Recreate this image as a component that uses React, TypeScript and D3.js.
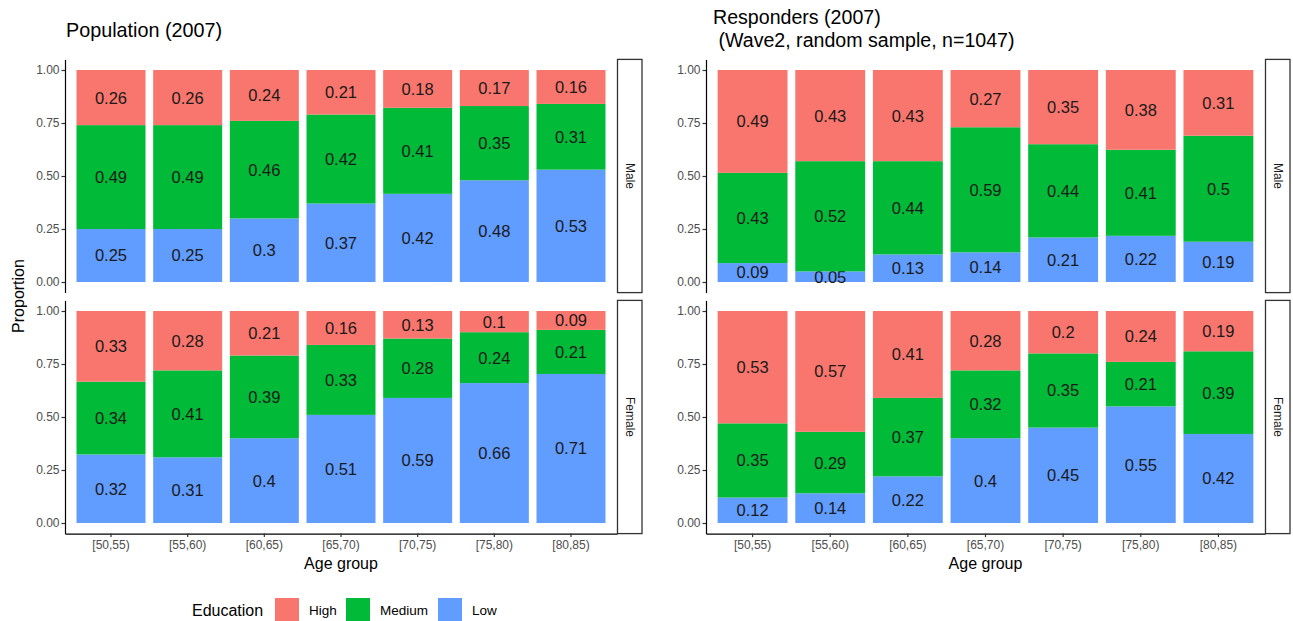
import React from "react";
import { useRef, useEffect } from "react";
import * as d3 from "d3";

const ageGroups = ["[50,55)", "[55,60)", "[60,65)", "[65,70)", "[70,75)", "[75,80)", "[80,85)"];
const eduLevels = ["High", "Medium", "Low"];
const eduColors = ["#F8766D", "#00BA38", "#619CFF"];
const sexes = ["Male", "Female"];
const yTicks = [0, 0.25, 0.5, 0.75, 1];

// rows are age groups, columns High / Medium / Low
const popMale = [
  [0.26, 0.49, 0.25],
  [0.26, 0.49, 0.25],
  [0.24, 0.46, 0.3],
  [0.21, 0.42, 0.37],
  [0.18, 0.41, 0.42],
  [0.17, 0.35, 0.48],
  [0.16, 0.31, 0.53],
];
const popFemale = [
  [0.33, 0.34, 0.32],
  [0.28, 0.41, 0.31],
  [0.21, 0.39, 0.4],
  [0.16, 0.33, 0.51],
  [0.13, 0.28, 0.59],
  [0.1, 0.24, 0.66],
  [0.09, 0.21, 0.71],
];
const respMale = [
  [0.49, 0.43, 0.09],
  [0.43, 0.52, 0.05],
  [0.43, 0.44, 0.13],
  [0.27, 0.59, 0.14],
  [0.35, 0.44, 0.21],
  [0.38, 0.41, 0.22],
  [0.31, 0.5, 0.19],
];
const respFemale = [
  [0.53, 0.35, 0.12],
  [0.57, 0.29, 0.14],
  [0.41, 0.37, 0.22],
  [0.28, 0.32, 0.4],
  [0.2, 0.35, 0.45],
  [0.24, 0.21, 0.55],
  [0.19, 0.39, 0.42],
];

const FONT = "'Liberation Sans', Arial, sans-serif";

function App() {
  const svgRef = useRef(null);

  function drawFacetPlot(svg, x0, x1, panels) {
    var rows = [
      { top: 59.4, bottom: 292.6 },
      { top: 300.4, bottom: 533.6 },
    ];
    var x = d3
      .scaleBand()
      .domain(ageGroups)
      .range([x0, x1])
      .paddingInner(0.1)
      .paddingOuter(0.15);

    panels.forEach(function (values, r) {
      var row = rows[r];
      var y = d3.scaleLinear().domain([-0.05, 1.05]).range([row.bottom, row.top]);

      var table = values.map(function (v, i) {
        var o = { group: ageGroups[i] };
        eduLevels.forEach(function (k, j) {
          o[k] = v[j];
        });
        return o;
      });
      var series = d3
        .stack()
        .keys(["Low", "Medium", "High"])
        .offset(d3.stackOffsetExpand)(table);

      var g = svg.append("g");
      series.forEach(function (s) {
        var color = eduColors[eduLevels.indexOf(s.key)];
        g.selectAll(null)
          .data(s)
          .join("rect")
          .attr("x", (d) => x(d.data.group))
          .attr("width", x.bandwidth())
          .attr("y", (d) => y(d[1]))
          .attr("height", (d) => y(d[0]) - y(d[1]))
          .attr("fill", color);
        g.selectAll(null)
          .data(s)
          .join("text")
          .attr("x", (d) => x(d.data.group) + x.bandwidth() / 2)
          .attr("y", (d) => y((d[0] + d[1]) / 2))
          .attr("dy", "0.36em")
          .attr("text-anchor", "middle")
          .attr("font-family", FONT)
          .attr("font-size", 16.5)
          .attr("fill", "#1a1a1a")
          .text((d) => String(d.data[s.key]));
      });

      // y axis
      var ya = svg
        .append("g")
        .attr("transform", "translate(" + x0 + ",0)")
        .call(
          d3
            .axisLeft(y)
            .tickValues(yTicks)
            .tickFormat(d3.format(".2f"))
            .tickSize(3.5)
            .tickSizeOuter(0)
            .tickPadding(2)
        );
      ya.selectAll("path, line").attr("stroke", "#000").attr("stroke-width", 1.2);
      ya.selectAll("line").attr("stroke", "#333");
      ya.selectAll("text")
        .attr("fill", "#4d4d4d")
        .attr("font-family", FONT)
        .attr("font-size", 12);

      // strip on the right
      svg
        .append("rect")
        .attr("x", x1 + 0.5)
        .attr("y", row.top)
        .attr("width", 24.5)
        .attr("height", row.bottom - row.top)
        .attr("fill", "#fff")
        .attr("stroke", "#333")
        .attr("stroke-width", 1.3);
      svg
        .append("text")
        .attr("transform", "translate(" + (x1 + 13) + "," + (row.top + row.bottom) / 2 + ") rotate(90)")
        .attr("text-anchor", "middle")
        .attr("dy", "0.35em")
        .attr("font-family", FONT)
        .attr("font-size", 12)
        .attr("fill", "#1a1a1a")
        .text(sexes[r]);
    });

    // x axis, bottom panel only
    var xa = svg
      .append("g")
      .attr("transform", "translate(0," + rows[1].bottom + ")")
      .call(d3.axisBottom(x).tickSize(3.5).tickSizeOuter(0).tickPadding(3));
    xa.selectAll("path, line").attr("stroke", "#000").attr("stroke-width", 1.2);
    xa.selectAll("line").attr("stroke", "#333");
    xa.selectAll("text")
      .attr("fill", "#4d4d4d")
      .attr("font-family", FONT)
      .attr("font-size", 12);

    svg
      .append("text")
      .attr("x", (x0 + x1) / 2)
      .attr("y", 569)
      .attr("text-anchor", "middle")
      .attr("font-family", FONT)
      .attr("font-size", 16)
      .attr("fill", "#000")
      .text("Age group");
  }

  function renderChart() {
    const svg = d3.select(svgRef.current);
    svg.selectAll("*").remove();

    drawFacetPlot(svg, 65, 617, [popMale, popFemale]);
    drawFacetPlot(svg, 706, 1265, [respMale, respFemale]);

    svg
      .append("text")
      .attr("x", 66)
      .attr("y", 37)
      .attr("font-family", FONT)
      .attr("font-size", 19.8)
      .attr("fill", "#000")
      .text("Population (2007)");

    svg
      .append("text")
      .attr("x", 713)
      .attr("y", 24)
      .attr("font-family", FONT)
      .attr("font-size", 19.6)
      .attr("fill", "#000")
      .text("Responders (2007)");
    svg
      .append("text")
      .attr("x", 713)
      .attr("y", 47)
      .attr("font-family", FONT)
      .attr("font-size", 19.6)
      .attr("fill", "#000")
      .attr("xml:space", "preserve")
      .style("white-space", "pre")
      .text(" (Wave2, random sample, n=1047)");

    svg
      .append("text")
      .attr("transform", "translate(24,296) rotate(-90)")
      .attr("text-anchor", "middle")
      .attr("font-family", FONT)
      .attr("font-size", 16)
      .attr("fill", "#000")
      .text("Proportion");

    // legend
    const legend = svg.append("g");
    legend
      .append("text")
      .attr("x", 192)
      .attr("y", 616)
      .attr("font-family", FONT)
      .attr("font-size", 16)
      .attr("fill", "#000")
      .text("Education");
    var keyX = [275, 346, 438];
    eduLevels.forEach(function (k, i) {
      legend
        .append("rect")
        .attr("x", keyX[i])
        .attr("y", 598)
        .attr("width", 24)
        .attr("height", 23)
        .attr("fill", eduColors[i]);
      legend
        .append("text")
        .attr("x", keyX[i] + 34)
        .attr("y", 615)
        .attr("font-family", FONT)
        .attr("font-size", 13.5)
        .attr("fill", "#000")
        .text(k);
    });
  }

  useEffect(() => {
    renderChart();
  }, []);

  return (
    <svg
      ref={svgRef}
      width={1293}
      height={621}
      style={{ position: "absolute", left: 0, top: 0, display: "block", background: "#fff" }}
    />
  );
}

export default App;
